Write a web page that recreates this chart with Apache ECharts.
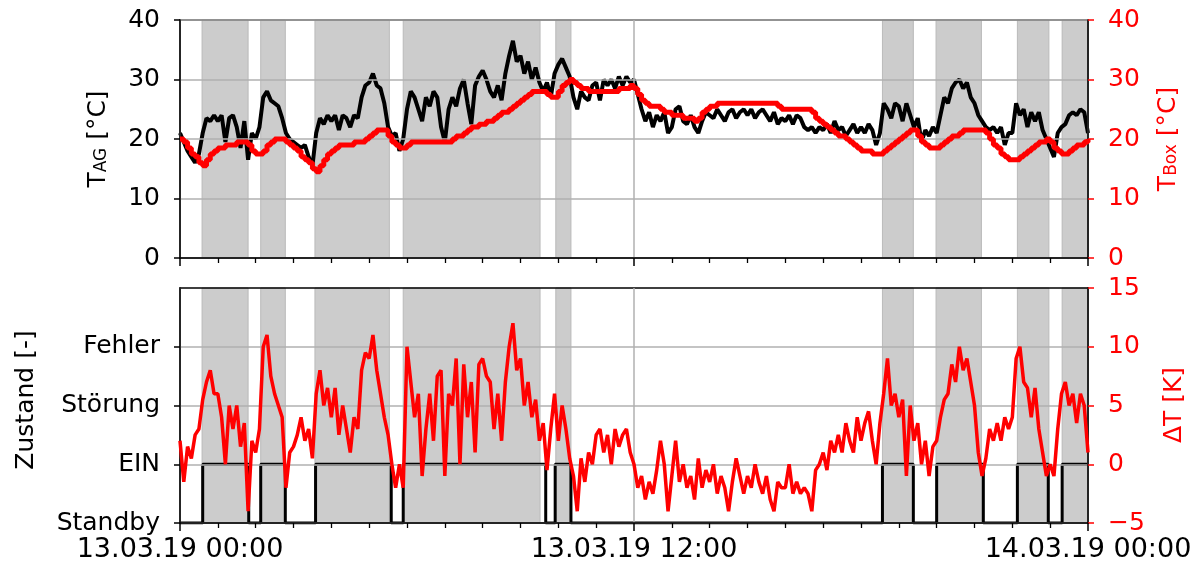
<!DOCTYPE html>
<html>
<head>
<meta charset="utf-8">
<script src="https://cdn.jsdelivr.net/npm/echarts@6/dist/echarts.min.js"></script>
<style>
  html, body { margin: 0; padding: 0; background: #ffffff; }
  #chart { width: 1196px; height: 572px; }
</style>
</head>
<body>
<div id="chart"></div>
<script>
// Sampling interval of the logged temperatures (minutes)
const SAMPLE_STEP_MIN = 6;

// Time axis tick labels at 0 h, 12 h, 24 h
const xTickLabels = ['13.03.19 00:00', '13.03.19 12:00', '14.03.19 00:00'];

// Device states on the left axis of the lower panel
const zustandLabels = ['Standby', 'EIN', 'Störung', 'Fehler'];

// Periods in which the unit was switched on (state EIN)
const einPeriods = [
  ['00:36', '01:49'], ['02:08', '02:47'], ['03:35', '05:35'], ['05:54', '09:40'],
  ['09:55', '10:20'], ['18:34', '19:23'], ['20:00', '21:14'], ['22:08', '22:57'],
  ['23:19', '24:00']
];

// Shaded operating periods
const shadedPeriods = [
  ['00:35', '01:48'], ['02:08', '02:47'], ['03:34', '05:32'], ['05:54', '09:31'],
  ['09:56', '10:20'], ['18:34', '19:23'], ['19:59', '21:11'], ['22:08', '22:58'],
  ['23:19', '24:00']
];

// T_AG [°C], one value every 6 minutes, one row per hour
const tAG = [
  21, 19.5, 18, 17, 16, 17.5, 21, 23.5, 23, 24,
  23, 24, 19.5, 23.5, 24, 22, 18.5, 23, 16.5, 21,
  20, 22, 27, 28, 26.5, 26, 25.5, 23.5, 21, 20,
  19.5, 19, 18.5, 19, 17, 15.5, 21, 23.5, 22.5, 24,
  23, 24, 21.5, 24, 23.5, 22, 24, 23.5, 27, 29,
  29.5, 31, 29, 28.5, 26, 22, 20.5, 21, 18, 20,
  25, 28, 27, 25, 23, 27, 25.5, 28, 27, 22,
  19.5, 25, 27, 25.5, 28.5, 30, 26, 22.5, 29, 30.5,
  31.5, 30, 28, 27, 29, 26.5, 31, 34, 36.5, 33,
  34, 31, 33, 30, 32, 29.5, 28, 29.5, 27, 31,
  32.5, 33.5, 32, 30.5, 27, 25, 28, 27, 26.5, 29,
  29.5, 26.5, 30, 29, 30, 28.5, 30.5, 29, 30.5, 29.5,
  30, 27.5, 25, 23, 24.5, 22, 24, 23, 24.5, 21,
  22, 25, 25.5, 23, 22.5, 24, 22, 21, 23, 24.5,
  24, 23.5, 25, 24, 23, 24.5, 25, 23.5, 24.5, 25,
  24, 25, 23.5, 24.5, 25, 24, 23, 24.5, 22.5, 23.5,
  23, 24, 22.5, 24, 23.5, 22, 21.5, 22, 21, 22,
  21.5, 22.5, 21, 23, 21.5, 22, 20.5, 21.5, 22.5, 21,
  22, 21, 22.5, 21.5, 19, 21, 26, 25, 23.5, 26,
  25.5, 23, 26, 24, 22, 23.5, 19.5, 21.5, 20.5, 22,
  21, 24, 27, 26, 28.5, 29.5, 30, 28.5, 29.5, 27,
  26, 24, 23, 22, 21.5, 22, 21, 22, 19, 21,
  21, 26, 24, 25, 22, 24.5, 23, 24.5, 21.5, 20,
  18.5, 17, 21, 22, 22.5, 24, 24.5, 24, 25, 24.5,
  21
];

// T_Box [°C], one value every 6 minutes
const tBox = [
  20, 19.5, 18.5, 17.5, 17, 16, 15.5, 16.5, 17.5, 18,
  18.5, 18.5, 19, 19, 19, 19.5, 19.5, 19.5, 19, 18,
  17.5, 17.5, 18, 19, 19.5, 20, 20, 20, 19.5, 19,
  18.5, 18, 17, 16.5, 16, 15, 14.5, 15.5, 16.5, 17.5,
  18, 18.5, 19, 19, 19, 19, 19.5, 19.5, 19.5, 20,
  20.5, 21, 21.5, 21.5, 21.5, 20.5, 19.5, 19, 18.5, 18.5,
  19, 19.5, 19.5, 19.5, 19.5, 19.5, 19.5, 19.5, 19.5, 19.5,
  19.5, 19.5, 20, 20.5, 20.5, 21, 21.5, 22, 22, 22.5,
  22.5, 23, 23, 23.5, 24, 24.5, 24.5, 25, 25.5, 26,
  26.5, 27, 27.5, 28, 28, 28, 28, 27.5, 27, 27,
  28, 29, 29.5, 30, 29.5, 29, 28.5, 28.5, 28, 28,
  28, 28, 28, 28, 28, 28, 28.5, 28.5, 28.5, 29,
  28.5, 27.5, 26.5, 26, 25.5, 25.5, 25.5, 25, 24.5, 24.5,
  24, 24, 24, 23.5, 23.5, 23.5, 23, 23.5, 24.5, 25,
  25.5, 25.5, 26, 26, 26, 26, 26, 26, 26, 26,
  26, 26, 26, 26, 26, 26, 26, 26, 25.5, 25,
  25, 25, 25, 25, 25, 25, 25, 24.5, 23.5, 23,
  22.5, 22, 21.5, 21, 20.5, 20.5, 20, 19.5, 19, 18.5,
  18, 18, 18, 17.5, 17.5, 17.5, 18, 18.5, 19, 19.5,
  20, 20.5, 21, 21.5, 21.5, 20.5, 19.5, 19, 18.5, 18.5,
  18.5, 19, 19.5, 20, 20.5, 20.5, 21, 21.5, 21.5, 21.5,
  21.5, 21.5, 21.5, 21, 20, 19, 18.5, 17.5, 17, 16.5,
  16.5, 16.5, 17, 17.5, 18, 18.5, 19, 19.5, 19.5, 20,
  19.5, 18.5, 18, 17.5, 17.5, 18, 18.5, 19, 19, 19.5,
  20
];

// ΔT [K], one value every 6 minutes
const deltaT = [
  2, -1.5, 1.5, 0.5, 2.5, 3, 5.5, 7, 8, 6,
  6, 4, 0, 5, 3, 5, 1.5, 3.5, -4, 2,
  1, 3, 10, 11, 7.5, 6, 5, 4, -2, 1,
  1.5, 2.5, 4, 2, 3, 0.5, 6, 8, 5, 6.5,
  4, 6.5, 2.5, 5, 3, 1, 4, 3, 8, 9.5,
  9, 11, 8, 6, 4, 2.5, 0, -2, 0, -2,
  10, 7, 4, 6, -1, 3, 6, 2, 7.5, 8,
  -1, 6, 5, 9, 0, 8.5, 4, 7, 1, 8.5,
  9, 7.5, 7, 3, 6, 2, 7, 10, 12, 8,
  9, 5, 7, 4, 5.5, 2, 3.5, -0.5, 3, 6,
  2, 5, 3, 0.5, -1, -4, 0.5, -1.5, 1, 0,
  2.5, 3, 1, 2.5, 0, 3, 1.5, 2.5, 3, 1,
  0, -2, -1, -3, -1.5, -2.5, -0.5, 2, 0, -4,
  -1, 2, -1.5, 0, -2, -1, -3, 0.5, -2, -0.5,
  -1.5, 0, -2.5, -1, -2, -4, -1.5, 0.5, -1, -2.5,
  -1, -2, 0, -1.5, -2.5, -1, -3, -4, -1.5, -2,
  -2, 0, -2.5, -1.5, -2.5, -2, -2.5, -4, -0.5, 0,
  1, -0.5, 2, 1, 2.5, 1, 3.5, 2, 1, 4,
  2, 3.5, 4.5, 2, 0, 3.5, 6, 9, 5, 6,
  4, 5.5, -1, 5, 2, 3.5, 0, 2, -1, 1.5,
  2, 4, 5.5, 6, 8.5, 7, 10, 8, 9, 7,
  5, 1, -1, 0.5, 3, 2, 3.5, 2, 4, 3,
  4, 9, 10, 7, 6.5, 4, 6.5, 3, 1, -1,
  0, -1, 3, 6, 7, 5, 6, 3.5, 6, 5,
  1
];

const FONT = 'DejaVu Sans';
const RED = '#ff0000';
const GRID_COLOR = '#b0b0b0';

function toHours(hhmm) {
  const [h, m] = hhmm.split(':').map(Number);
  return h + m / 60;
}

function toSeries(values) {
  const step = SAMPLE_STEP_MIN / 60;
  return values.map((v, i) => [i * step, v]);
}

function zustandSeries(periods) {
  const pts = [[0, 0]];
  periods.forEach(([s, e]) => {
    const hs = toHours(s), he = toHours(e);
    pts.push([hs, 1]);
    pts.push([he, he >= 24 ? 1 : 0]);
  });
  if (pts[pts.length - 1][0] < 24) pts.push([24, 0]);
  return pts;
}

const shadeAreas = shadedPeriods.map(([s, e]) => [{ xAxis: toHours(s) }, { xAxis: toHours(e) }]);

// Gray bands sit below the grid lines and the black curves
function shadeSeries(gridIdx) {
  return {
    type: 'line',
    xAxisIndex: gridIdx,
    yAxisIndex: gridIdx * 2,
    data: [],
    silent: true,
    z: -5,
    markArea: {
      silent: true,
      z: -5,
      itemStyle: { color: '#cccccc', borderColor: '#bababa', borderWidth: 1 },
      data: shadeAreas
    }
  };
}

function xAxis(gridIdx, withLabels) {
  return {
    type: 'value',
    gridIndex: gridIdx,
    position: 'bottom',
    min: 0,
    max: 24,
    interval: 12,
    axisLine: { show: true, lineStyle: { color: '#000', width: 1.5 } },
    axisTick: { show: true, length: 8, lineStyle: { color: '#000', width: 1.5 } },
    minorTick: { show: true, splitNumber: 12, length: 5, lineStyle: { color: '#000', width: 1.3 } },
    splitLine: { show: true, lineStyle: { color: GRID_COLOR, width: 1.5 } },
    axisLabel: {
      show: withLabels,
      showMinLabel: true,
      showMaxLabel: true,
      margin: 13,
      fontFamily: FONT,
      fontSize: 27,
      color: '#000',
      formatter: v => xTickLabels[Math.round(v / 12)] || ''
    }
  };
}

const tickLabel = (color) => ({ fontFamily: FONT, fontSize: 25, color: color, margin: 20 });

const option = {
  animation: false,
  backgroundColor: '#ffffff',
  grid: [
    { left: 180, right: 108, top: 20, height: 238, show: true, borderColor: '#000', borderWidth: 1.5, backgroundColor: 'transparent' },
    { left: 180, right: 108, top: 288, height: 235, show: true, borderColor: '#000', borderWidth: 1.5, backgroundColor: 'transparent' }
  ],
  xAxis: [xAxis(0, false), xAxis(1, true)],
  yAxis: [
    {
      type: 'value', gridIndex: 0, position: 'left', min: 0, max: 40, interval: 10,
      axisLine: { show: true, lineStyle: { color: '#000', width: 1.5 } },
      axisTick: { show: true, length: 6, lineStyle: { color: '#000', width: 1.5 } },
      axisLabel: tickLabel('#000'),
      splitLine: { show: true, lineStyle: { color: GRID_COLOR, width: 1.5 } }
    },
    {
      type: 'value', gridIndex: 0, position: 'right', min: 0, max: 40, interval: 10,
      axisLine: { show: true, lineStyle: { color: '#000', width: 1.5 } },
      axisTick: { show: true, length: 6, lineStyle: { color: RED, width: 1.5 } },
      axisLabel: tickLabel(RED),
      splitLine: { show: false }
    },
    {
      type: 'value', gridIndex: 1, position: 'left', min: 0, max: 4, interval: 1,
      axisLine: { show: true, lineStyle: { color: '#000', width: 1.5 } },
      axisTick: { show: true, length: 6, customValues: [0, 1, 2, 3], lineStyle: { color: '#000', width: 1.5 } },
      axisLabel: Object.assign(tickLabel('#000'), {
        customValues: [0, 1, 2, 3],
        formatter: v => zustandLabels[Math.round(v)] || ''
      }),
      splitLine: { show: true, lineStyle: { color: GRID_COLOR, width: 1.5 } }
    },
    {
      type: 'value', gridIndex: 1, position: 'right', min: -5, max: 15, interval: 5,
      axisLine: { show: true, lineStyle: { color: '#000', width: 1.5 } },
      axisTick: { show: true, length: 6, lineStyle: { color: RED, width: 1.5 } },
      axisLabel: Object.assign(tickLabel(RED), {
        formatter: v => (v < 0 ? '\u2212' + Math.abs(v) : String(v))
      }),
      splitLine: { show: false }
    }
  ],
  series: [
    shadeSeries(0),
    shadeSeries(1),
    {
      name: 'T_AG', type: 'line', xAxisIndex: 0, yAxisIndex: 0, z: -1,
      data: toSeries(tAG), showSymbol: false,
      lineStyle: { color: '#000', width: 4 }
    },
    {
      name: 'T_Box', type: 'line', xAxisIndex: 0, yAxisIndex: 1, z: 3,
      data: toSeries(tBox), showSymbol: false, step: 'end',
      lineStyle: { color: RED, width: 5 }
    },
    {
      name: 'Zustand', type: 'line', xAxisIndex: 1, yAxisIndex: 2, z: -1,
      data: zustandSeries(einPeriods), showSymbol: false, step: 'end',
      lineStyle: { color: '#000', width: 3 }
    },
    {
      name: 'ΔT', type: 'line', xAxisIndex: 1, yAxisIndex: 3, z: 3,
      data: toSeries(deltaT), showSymbol: false,
      lineStyle: { color: RED, width: 3.5 }
    }
  ],
  graphic: [
    {
      type: 'text', x: 98, y: 139, rotation: Math.PI / 2,
      style: {
        text: '{m|T}{s|AG}{m| [°C]}', align: 'center', verticalAlign: 'middle',
        rich: {
          m: { fontFamily: FONT, fontSize: 25, fill: '#000' },
          s: { fontFamily: FONT, fontSize: 17, fill: '#000', verticalAlign: 'bottom' }
        }
      }
    },
    {
      type: 'text', x: 26, y: 400, rotation: Math.PI / 2,
      style: { text: 'Zustand [-]', align: 'center', verticalAlign: 'middle', fontFamily: FONT, fontSize: 25, fill: '#000' }
    },
    {
      type: 'text', x: 1168, y: 139, rotation: Math.PI / 2,
      style: {
        text: '{m|T}{s|Box}{m| [°C]}', align: 'center', verticalAlign: 'middle',
        rich: {
          m: { fontFamily: FONT, fontSize: 25, fill: RED },
          s: { fontFamily: FONT, fontSize: 17, fill: RED, verticalAlign: 'bottom' }
        }
      }
    },
    {
      type: 'text', x: 1174, y: 405, rotation: Math.PI / 2,
      style: { text: 'ΔT [K]', align: 'center', verticalAlign: 'middle', fontFamily: FONT, fontSize: 25, fill: RED }
    }
  ]
};

const chart = echarts.init(document.getElementById('chart'), null, { renderer: 'canvas' });
chart.setOption(option);
</script>
</body>
</html>
